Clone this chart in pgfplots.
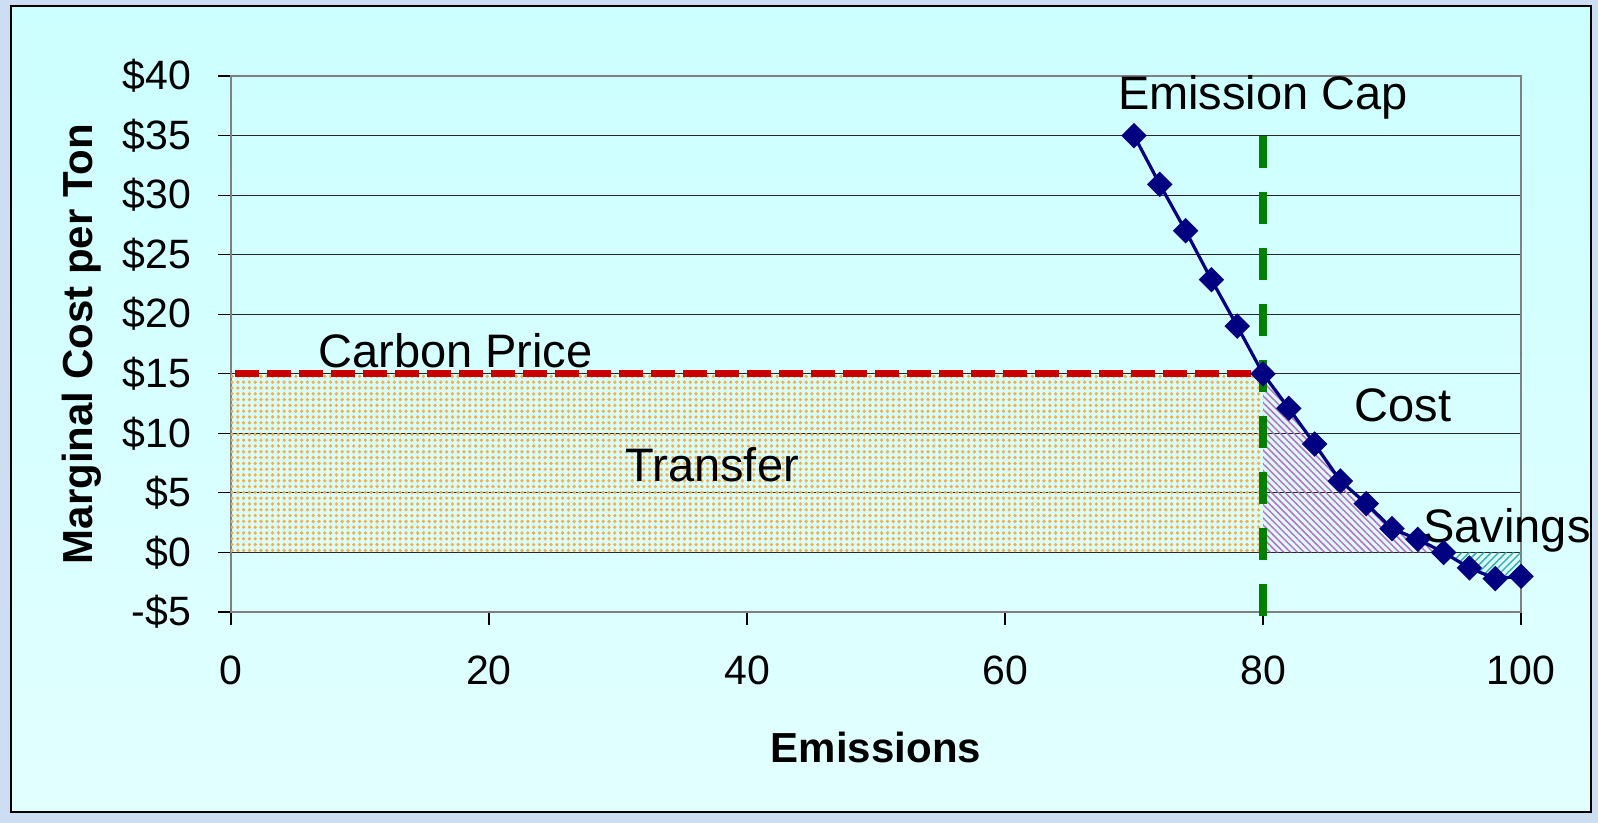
\documentclass[border=0pt]{standalone}
\usepackage{fontspec}
\setmainfont{Liberation Sans}
\usepackage{pgfplots}
\pgfplotsset{compat=1.18}
\usetikzlibrary{patterns.meta}

\definecolor{bgtop}{RGB}{204,255,255}
\definecolor{bgbot}{RGB}{226,255,255}
\definecolor{frame}{RGB}{205,222,242}
\definecolor{mcnavy}{RGB}{0,0,128}
\definecolor{priceRed}{RGB}{200,0,0}
\definecolor{capGreen}{RGB}{0,128,0}
\definecolor{dotOrange}{RGB}{245,175,75}
\definecolor{costPurple}{RGB}{190,110,190}
\definecolor{saveTeal}{RGB}{60,175,175}
\definecolor{axgray}{RGB}{128,128,128}

\begin{document}
\begin{tikzpicture}
\fill[frame] (0pt,0pt) rectangle (799pt,411.5pt);
\useasboundingbox (0pt,0pt) rectangle (799pt,411.5pt);
\shade[top color=bgtop, bottom color=bgbot] (5.5pt,5.5pt) rectangle (795.5pt,408.5pt);
\draw[black, line width=0.8pt] (5.5pt,5.5pt) rectangle (795.5pt,408.5pt);

\begin{axis}[
  at={(115.5pt,105.5pt)}, anchor=south west,
  scale only axis, width=645pt, height=268pt,
  xmin=0, xmax=100, ymin=-5, ymax=40,
  clip=false,
  xtick={0,20,...,100},
  ytick={-5,0,...,40},
  yticklabels={-\$5,\$0,\$5,\$10,\$15,\$20,\$25,\$30,\$35,\$40},
  /pgf/number format/assume math mode=true,
  ticklabel style={font=\fontsize{20.5}{24}\selectfont},
  xticklabel style={yshift=-12pt},
  yticklabel style={xshift=-10pt},
  xtick pos=left, ytick pos=left,
  tick align=outside, major tick length=6.5pt,
  tick style={black, line width=0.6pt},
  ymajorgrids, major grid style={black!85, line width=0.5pt},
  axis line style={draw=axgray, line width=1.2pt},
  xlabel={Emissions}, ylabel={Marginal Cost per Ton},
  label style={font=\fontsize{21}{25}\selectfont\bfseries},
  xlabel style={at={(axis description cs:0.5,-0.2537)}, anchor=center},
  ylabel style={at={(axis description cs:-0.1155,0.5)}, anchor=center},
]
% transfer area
\addplot[draw=none, pattern={Dots[radius=0.95pt, distance=2.9pt]}, pattern color=dotOrange]
  coordinates {(0,0) (0,15) (80,15) (80,0)} -- cycle;
% cost area (under the curve, above zero)
\addplot[draw=none, pattern={Lines[angle=-45, distance=2.4pt, line width=0.75pt]}, pattern color=costPurple]
  coordinates {(80,0) (80,15) (82,12.1) (84,9.1) (86,6.0) (88,4.1) (90,2.0) (92,1.1) (94,0.0)} -- cycle;
% savings area (above the curve, below zero)
\addplot[draw=none, pattern={Lines[angle=45, distance=2.6pt, line width=0.75pt]}, pattern color=saveTeal]
  coordinates {(94,0.0) (96,-1.3) (98,-2.2) (100,-2.0) (100,0)} -- cycle;

% marginal cost curve
\addplot[mcnavy, line width=1.6pt, mark=square*, mark size=3.7pt,
  mark options={rotate=45, solid}] table {
x   y
70  35.0
72  30.9
74  27.0
76  22.9
78  19.0
80  15.0
82  12.1
84  9.1
86  6.0
88  4.1
90  2.0
92  1.1
94  0.0
96  -1.3
98  -2.2
100 -2.0
};

% emission cap and carbon price
\addplot[capGreen, line width=3.6pt, dash pattern=on 16pt off 12pt] coordinates {(80,35) (80,-6.1)};
\addplot[priceRed, line width=3.6pt, dash pattern=on 12pt off 4pt] coordinates {(0.3,15) (80,15)};

\begin{scope}[every node/.style={font=\fontsize{23.5}{28}\selectfont, inner sep=0pt}]
\node[anchor=base] at (axis cs:80,37.15) {Emission Cap};
\node[anchor=base] at (axis cs:17.4,15.5) {Carbon Price};
\node[anchor=base] at (axis cs:37.3,5.94) {Transfer};
\node[anchor=base] at (axis cs:90.85,11.0) {Cost};
\node[anchor=base west] at (axis cs:92.4,0.82) {Savings};
\end{scope}
\end{axis}
\end{tikzpicture}
\end{document}
